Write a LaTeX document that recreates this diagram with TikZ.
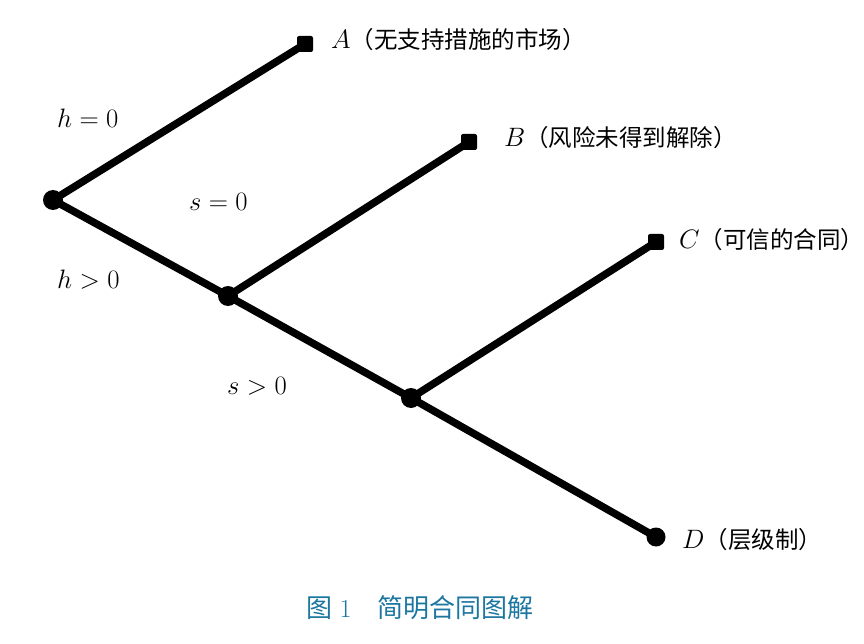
\documentclass[tikz,border=0pt]{standalone}
\usepackage{fontspec}
\newfontfamily\cjk{Noto Sans CJK SC}
\definecolor{capblue}{RGB}{28,118,160}
\newcommand{\mymathlab}[1]{\scalebox{1.07}{$#1$}}
\newcommand{\cjklab}[1]{{\cjk\fontsize{23.5}{28}\selectfont #1}}
\begin{document}
\begin{tikzpicture}[x=1pt,y=-1pt,
  branch/.style={line width=7.5pt,line cap=round,line join=round},
  endsq/.style={fill=black,rectangle,rounded corners=2pt,minimum size=16pt,inner sep=0pt},
  dot/.style={fill=black,circle,minimum size=20pt,inner sep=0pt},
  lab/.style={anchor=west,inner sep=0pt,font=\fontsize{24.88}{28}\selectfont},
  cond/.style={anchor=west,inner sep=0pt,font=\fontsize{24.88}{28}\selectfont}]
\useasboundingbox (0,0) rectangle (864,644);
\node[dot] (R) at (53,200) {};
\node[dot] (N2) at (228,296) {};
\node[dot] (N3) at (411,398) {};
\node[endsq] (A) at (305,44) {};
\node[endsq] (B) at (469,142) {};
\node[endsq] (C) at (656,242) {};
\node[dot,minimum size=19pt] (D) at (656,537) {};
\draw[branch] (R.center) -- (A.center);
\draw[branch] (R.center) -- (N2.center);
\draw[branch] (N2.center) -- (B.center);
\draw[branch] (N2.center) -- (N3.center);
\draw[branch] (N3.center) -- (C.center);
\draw[branch] (N3.center) -- (D.center);
\node[lab] (LA) at (331,40) {\mymathlab{A}\cjklab{（无支持措施的市场）}};
\node[lab] (LB) at (504,138) {\mymathlab{B}\cjklab{（风险未得到解除）}};
\node[lab] (LC) at (679,240) {\mymathlab{C}\cjklab{（可信的合同）}};
\node[lab] (LD) at (682,540) {\mymathlab{D}\cjklab{（层级制）}};
\node[cond] (h0) at (57,118) {\mymathlab{h=0}};
\node[cond] (s0) at (189,202) {\mymathlab{s=0}};
\node[cond] (h1) at (57,280) {\mymathlab{h>0}};
\node[cond] (s1) at (227,386) {\mymathlab{s>0}};
\node[text=capblue,font=\fontsize{26}{30}\selectfont] (cap) at (420,608) {{\cjk 图}\;1\quad{\cjk 简明合同图解}};
\end{tikzpicture}
\end{document}
